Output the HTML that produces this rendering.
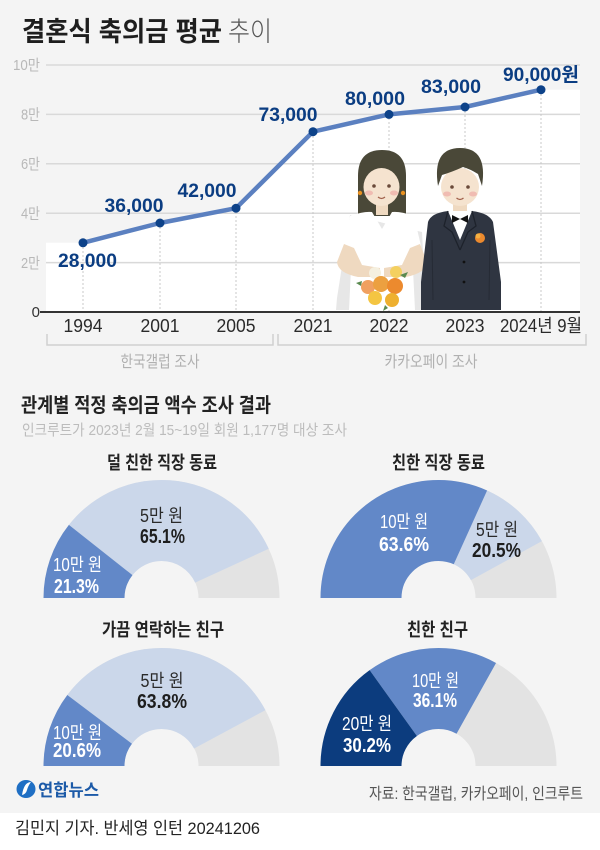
<!DOCTYPE html>
<html><head><meta charset="utf-8">
<style>
html,body{margin:0;padding:0;width:600px;height:850px;overflow:hidden;background:#fff;}
svg{display:block;font-family:"Liberation Sans","Noto Sans CJK KR",sans-serif;}
</style></head>
<body>
<svg width="600" height="850" viewBox="0 0 600 850" xmlns="http://www.w3.org/2000/svg">
<rect x="0" y="0" width="600" height="813" fill="#f4f4f4"/>
<rect x="0" y="813" width="600" height="37" fill="#ffffff"/>

<!-- Title -->
<text x="22" y="41" font-size="27" font-weight="bold" fill="#1e1e1e" textLength="200" lengthAdjust="spacingAndGlyphs">결혼식 축의금 평균</text>
<text x="228" y="41" font-size="27" font-weight="300" fill="#555" textLength="44" lengthAdjust="spacingAndGlyphs">추이</text>

<!-- white area under line -->
<polygon points="46,242.8 83,242.8 160,223 236,208.2 313,131.7 389,114.4 465,107 541,89.7 580,89.7 580,312 46,312" fill="#ffffff"/>

<!-- gridlines -->
<g stroke="#d9d9d9" stroke-width="1.5">
<line x1="46" y1="65" x2="580" y2="65"/>
<line x1="46" y1="114.4" x2="580" y2="114.4"/>
<line x1="46" y1="163.8" x2="580" y2="163.8"/>
<line x1="46" y1="213.2" x2="580" y2="213.2"/>
<line x1="46" y1="262.6" x2="580" y2="262.6"/>
</g>
<!-- y labels -->
<g font-size="15" fill="#b8b8b8" text-anchor="end">
<text x="40" y="70" textLength="27" lengthAdjust="spacingAndGlyphs">10만</text>
<text x="40" y="119.5" textLength="19" lengthAdjust="spacingAndGlyphs">8만</text>
<text x="40" y="169" textLength="19" lengthAdjust="spacingAndGlyphs">6만</text>
<text x="40" y="218.5" textLength="19" lengthAdjust="spacingAndGlyphs">4만</text>
<text x="40" y="268" textLength="19" lengthAdjust="spacingAndGlyphs">2만</text>
</g>
<text x="40" y="317" font-size="15" fill="#333" text-anchor="end">0</text>

<!-- dotted verticals -->
<g stroke="#c8c8c8" stroke-width="1" stroke-dasharray="2,2">
<line x1="83" y1="243" x2="83" y2="311"/>
<line x1="160" y1="223" x2="160" y2="311"/>
<line x1="236" y1="208" x2="236" y2="311"/>
<line x1="313" y1="132" x2="313" y2="311"/>
<line x1="389" y1="114" x2="389" y2="311"/>
<line x1="465" y1="107" x2="465" y2="311"/>
<line x1="541" y1="90" x2="541" y2="311"/>
</g>

<!-- Illustration: bride -->
<path d="M350,215 L337,298 L336,310 L426,310 L422,232 Z" fill="#e7e7e7"/>
<path d="M358,216 L358,176 Q358,150 382,150 Q406,150 406,176 L406,216 Z" fill="#4a4838"/>
<rect x="376" y="200" width="12" height="15" fill="#efd9c0"/>
<ellipse cx="381.5" cy="187" rx="18" ry="19" fill="#f5e3cf"/>
<path d="M360,184 Q360,155 382,155 Q404,155 404,184 L399,172 Q391,163 382,165 Q373,163 365,172 Z" fill="#4a4838"/>
<circle cx="360" cy="193" r="2.2" fill="#e89020"/>
<circle cx="403" cy="193" r="2.2" fill="#e89020"/>
<circle cx="374" cy="186" r="1.8" fill="#6a4a3a"/>
<circle cx="389" cy="186" r="1.8" fill="#6a4a3a"/>
<ellipse cx="369" cy="193" rx="4" ry="2.5" fill="#f0bcb2"/>
<ellipse cx="394" cy="193" rx="4" ry="2.5" fill="#f0bcb2"/>
<path d="M378,197 Q381.5,200 385,197" stroke="#a0604a" stroke-width="1.2" fill="none"/>
<path d="M350,216 Q364,211 372,212 L382,229 L392,212 Q400,211 414,216 L421,246 L412,249 L415,310 L349,310 L352,249 L343,246 Z" fill="#ffffff"/>
<path d="M344,244 L337,262 Q338,273 358,277 L380,277 L380,268 L362,265 L354,248 Z" fill="#efd9c0"/>
<path d="M420,244 L427,262 Q426,273 406,277 L384,277 L384,268 L402,265 L410,248 Z" fill="#efd9c0"/>
<circle cx="375" cy="273" r="6" fill="#f5f0e0"/>
<circle cx="396" cy="272" r="6" fill="#f4d060"/>
<circle cx="368" cy="287" r="7" fill="#f0a060"/>
<circle cx="381" cy="284" r="8" fill="#eca040"/>
<circle cx="395" cy="286" r="8" fill="#ec8a2e"/>
<circle cx="375" cy="298" r="7" fill="#f4c542"/>
<circle cx="392" cy="300" r="7" fill="#eeb030"/>
<path d="M400,275 l8,-3 l-3,6 Z M362,281 l-6,2 l5,3 Z M385,305 l-2,6 l5,-3 Z" fill="#5a8a50"/>

<!-- Illustration: groom -->
<rect x="453" y="200" width="14" height="15" fill="#efd9c0"/>
<ellipse cx="460" cy="187" rx="19" ry="19" fill="#f5e3cf"/>
<path d="M438,186 Q432,148 460,148 Q488,148 482,186 L478,174 Q470,169 463,167 Q452,172 442,175 Z" fill="#4a4838"/>
<circle cx="452" cy="187" r="1.8" fill="#6a4a3a"/>
<circle cx="468" cy="187" r="1.8" fill="#6a4a3a"/>
<ellipse cx="447" cy="194" rx="4" ry="2.5" fill="#f0bcb2"/>
<ellipse cx="473" cy="194" rx="4" ry="2.5" fill="#f0bcb2"/>
<path d="M456.5,198 Q460,201 463.5,198" stroke="#a0604a" stroke-width="1.2" fill="none"/>
<path d="M428,222 Q431,213 448,211 L460,224 L472,211 Q489,213 493,222 L501,282 L501,310 L421,310 L421,282 Z" fill="#2f3541"/>
<path d="M448,211 L472,211 L460,240 Z" fill="#ffffff"/>
<path d="M452,215 L460,219 L468,215 L468,223 L460,219 L452,223 Z" fill="#111"/>
<path d="M448,211 L444,226 L452,232 L460,250 M472,211 L476,226 L468,232 L460,250" stroke="#1d222b" stroke-width="1.3" fill="none"/>
<path d="M432,240 L433,300 M490,240 L489,300" stroke="#262b35" stroke-width="1" fill="none"/>
<circle cx="480" cy="238" r="5" fill="#ec8a2e"/>
<circle cx="478" cy="236" r="2.5" fill="#f4b042"/>
<circle cx="464" cy="262" r="1.4" fill="#111"/>
<circle cx="464" cy="282" r="1.4" fill="#111"/>

<!-- line -->
<polyline points="83,242.8 160,223 236,208.2 313,131.7 389,114.4 465,107 541,89.7" fill="none" stroke="#5b80c0" stroke-width="4.5" stroke-linejoin="round"/>
<g fill="#0d4289">
<circle cx="83" cy="242.8" r="4.5"/>
<circle cx="160" cy="223" r="4.5"/>
<circle cx="236" cy="208.2" r="4.5"/>
<circle cx="313" cy="131.7" r="4.5"/>
<circle cx="389" cy="114.4" r="4.5"/>
<circle cx="465" cy="107" r="4.5"/>
<circle cx="541" cy="89.7" r="4.5"/>
</g>
<g font-size="19" font-weight="bold" fill="#0b3d82" text-anchor="middle">
<text x="87.5" y="267" textLength="59" lengthAdjust="spacingAndGlyphs">28,000</text>
<text x="134" y="212" textLength="59" lengthAdjust="spacingAndGlyphs">36,000</text>
<text x="207" y="197" textLength="59" lengthAdjust="spacingAndGlyphs">42,000</text>
<text x="288" y="121" textLength="59" lengthAdjust="spacingAndGlyphs">73,000</text>
<text x="375" y="105" textLength="60" lengthAdjust="spacingAndGlyphs">80,000</text>
<text x="451" y="93" textLength="60" lengthAdjust="spacingAndGlyphs">83,000</text>
<text x="541" y="81" textLength="76" lengthAdjust="spacingAndGlyphs">90,000원</text>
</g>

<!-- axis -->
<line x1="40" y1="312" x2="580" y2="312" stroke="#333" stroke-width="2"/>
<g font-size="18" fill="#2a2a2a" text-anchor="middle">
<text x="83" y="332" textLength="39" lengthAdjust="spacingAndGlyphs">1994</text>
<text x="160" y="332" textLength="39" lengthAdjust="spacingAndGlyphs">2001</text>
<text x="236" y="332" textLength="39" lengthAdjust="spacingAndGlyphs">2005</text>
<text x="313" y="332" textLength="39" lengthAdjust="spacingAndGlyphs">2021</text>
<text x="389" y="332" textLength="39" lengthAdjust="spacingAndGlyphs">2022</text>
<text x="465" y="332" textLength="39" lengthAdjust="spacingAndGlyphs">2023</text>
<text x="541" y="332" textLength="82" lengthAdjust="spacingAndGlyphs">2024년 9월</text>
</g>
<!-- brackets -->
<g stroke="#d0d0d0" stroke-width="1.5" fill="none">
<path d="M47,334 L47,345 L273,345 L273,334"/>
<path d="M278,334 L278,345 L586,345 L586,334"/>
</g>
<g font-size="16" fill="#b0b0b0" text-anchor="middle">
<text x="160" y="367" textLength="79" lengthAdjust="spacingAndGlyphs">한국갤럽 조사</text>
<text x="431" y="367" textLength="93" lengthAdjust="spacingAndGlyphs">카카오페이 조사</text>
</g>

<!-- section 2 -->
<text x="21" y="412" font-size="20" font-weight="bold" fill="#222" textLength="250" lengthAdjust="spacingAndGlyphs">관계별 적정 축의금 액수 조사 결과</text>
<text x="22" y="435" font-size="15" fill="#bcbcbc" textLength="325" lengthAdjust="spacingAndGlyphs">인크루트가 2023년 2월 15~19일 회원 1,177명 대상 조사</text>

<!-- panel titles -->
<g font-size="18" font-weight="bold" fill="#222" text-anchor="middle">
<text x="162" y="469" textLength="110" lengthAdjust="spacingAndGlyphs">덜 친한 직장 동료</text>
<text x="438.5" y="469" textLength="93" lengthAdjust="spacingAndGlyphs">친한 직장 동료</text>
<text x="163" y="636" textLength="122" lengthAdjust="spacingAndGlyphs">가끔 연락하는 친구</text>
<text x="437.5" y="636" textLength="61" lengthAdjust="spacingAndGlyphs">친한 친구</text>
</g>

<!-- donuts -->
<g fill="none" stroke-width="81">
<path d="M84,598 A77.5,77.5 0 0 1 239,598" pathLength="100" stroke="#e3e3e3"/>
<path d="M84,598 A77.5,77.5 0 0 1 239,598" pathLength="100" stroke="#cbd7ea" stroke-dasharray="65.1 300" stroke-dashoffset="-21.3"/>
<path d="M84,598 A77.5,77.5 0 0 1 239,598" pathLength="100" stroke="#6288c8" stroke-dasharray="21.3 300"/>

<path d="M361,598 A77.5,77.5 0 0 1 516,598" pathLength="100" stroke="#e3e3e3"/>
<path d="M361,598 A77.5,77.5 0 0 1 516,598" pathLength="100" stroke="#cbd7ea" stroke-dasharray="20.5 300" stroke-dashoffset="-63.6"/>
<path d="M361,598 A77.5,77.5 0 0 1 516,598" pathLength="100" stroke="#6288c8" stroke-dasharray="63.6 300"/>

<path d="M84,766 A77.5,77.5 0 0 1 239,766" pathLength="100" stroke="#e3e3e3"/>
<path d="M84,766 A77.5,77.5 0 0 1 239,766" pathLength="100" stroke="#cbd7ea" stroke-dasharray="63.8 300" stroke-dashoffset="-20.6"/>
<path d="M84,766 A77.5,77.5 0 0 1 239,766" pathLength="100" stroke="#6288c8" stroke-dasharray="20.6 300"/>

<path d="M361,766 A77.5,77.5 0 0 1 516,766" pathLength="100" stroke="#e3e3e3"/>
<path d="M361,766 A77.5,77.5 0 0 1 516,766" pathLength="100" stroke="#6288c8" stroke-dasharray="36.1 300" stroke-dashoffset="-30.2"/>
<path d="M361,766 A77.5,77.5 0 0 1 516,766" pathLength="100" stroke="#0c3c7e" stroke-dasharray="30.2 300"/>
</g>

<!-- donut labels -->
<g text-anchor="middle">
<text x="161.5" y="522" font-size="18" fill="#2a2a2a" textLength="43" lengthAdjust="spacingAndGlyphs">5만 원</text>
<text x="162.5" y="543" font-size="20" font-weight="bold" fill="#1e1e1e" textLength="45" lengthAdjust="spacingAndGlyphs">65.1%</text>
<text x="77.5" y="571" font-size="18" fill="#ffffff" textLength="49" lengthAdjust="spacingAndGlyphs">10만 원</text>
<text x="76.5" y="593" font-size="20" font-weight="bold" fill="#ffffff" textLength="45" lengthAdjust="spacingAndGlyphs">21.3%</text>

<text x="404" y="528" font-size="18" fill="#ffffff" textLength="48" lengthAdjust="spacingAndGlyphs">10만 원</text>
<text x="404" y="551" font-size="20" font-weight="bold" fill="#ffffff" textLength="50" lengthAdjust="spacingAndGlyphs">63.6%</text>
<text x="497" y="536" font-size="18" fill="#2a2a2a" textLength="42" lengthAdjust="spacingAndGlyphs">5만 원</text>
<text x="496.5" y="557" font-size="20" font-weight="bold" fill="#1e1e1e" textLength="49" lengthAdjust="spacingAndGlyphs">20.5%</text>

<text x="162" y="687" font-size="18" fill="#2a2a2a" textLength="43" lengthAdjust="spacingAndGlyphs">5만 원</text>
<text x="162" y="708" font-size="20" font-weight="bold" fill="#1e1e1e" textLength="50" lengthAdjust="spacingAndGlyphs">63.8%</text>
<text x="77.5" y="739" font-size="18" fill="#ffffff" textLength="49" lengthAdjust="spacingAndGlyphs">10만 원</text>
<text x="77" y="757" font-size="20" font-weight="bold" fill="#ffffff" textLength="48" lengthAdjust="spacingAndGlyphs">20.6%</text>

<text x="435.5" y="687" font-size="18" fill="#ffffff" textLength="47" lengthAdjust="spacingAndGlyphs">10만 원</text>
<text x="435" y="707" font-size="20" font-weight="bold" fill="#ffffff" textLength="44" lengthAdjust="spacingAndGlyphs">36.1%</text>
<text x="367" y="730" font-size="18" fill="#ffffff" textLength="50" lengthAdjust="spacingAndGlyphs">20만 원</text>
<text x="367" y="752" font-size="20" font-weight="bold" fill="#ffffff" textLength="48" lengthAdjust="spacingAndGlyphs">30.2%</text>
</g>

<!-- logo -->
<ellipse cx="26" cy="789" rx="9.5" ry="9" fill="#1f6fc4"/>
<path d="M22,795 Q24,782 31,782 Q28,786 27,790 Q26,794 22,795 Z" fill="#ffffff"/>
<text x="38" y="796" font-size="17" font-weight="bold" fill="#1c5aa8" textLength="61" lengthAdjust="spacingAndGlyphs">연합뉴스</text>

<text x="583" y="799" font-size="16" fill="#555" text-anchor="end" textLength="214" lengthAdjust="spacingAndGlyphs">자료: 한국갤럽, 카카오페이, 인크루트</text>

<text x="15" y="834" font-size="17" fill="#222" textLength="245" lengthAdjust="spacingAndGlyphs">김민지 기자. 반세영 인턴  20241206</text>
</svg>
</body></html>
